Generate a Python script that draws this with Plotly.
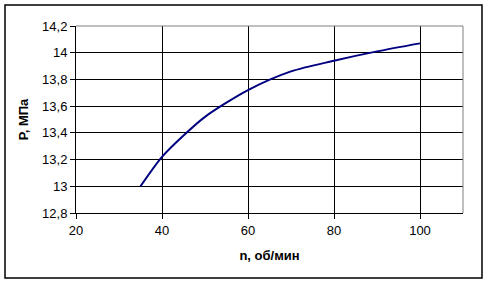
import plotly.graph_objects as go

n_rpm = [35, 40, 45, 50, 60, 70, 80, 90, 100]
p_mpa = [13.0, 13.22, 13.38, 13.52, 13.72, 13.86, 13.94, 14.01, 14.07]

x_ticks = [20, 40, 60, 80, 100]
x_labels = ["20", "40", "60", "80", "100"]
y_ticks = [12.8, 13.0, 13.2, 13.4, 13.6, 13.8, 14.0, 14.2]
y_labels = ["12,8", "13", "13,2", "13,4", "13,6", "13,8", "14", "14,2"]

font = "Liberation Sans, Arial, sans-serif"

fig = go.Figure()
fig.add_trace(go.Scatter(
    x=n_rpm, y=p_mpa, mode="lines",
    line=dict(color="#000080", width=2, shape="spline", smoothing=0.8),
    hoverinfo="skip", showlegend=False,
))

fig.update_layout(
    width=491, height=284,
    margin=dict(l=76, r=28, t=26, b=71),
    paper_bgcolor="white", plot_bgcolor="white",
    font=dict(family=font, size=13, color="black"),
    xaxis=dict(
        range=[20, 110], tickvals=x_ticks, ticktext=x_labels,
        showgrid=True, gridcolor="black", gridwidth=1,
        showline=True, linecolor="black", linewidth=1,
        ticks="outside", ticklen=5, tickcolor="black",
        zeroline=False,
        title=dict(text="<b>n, об/мин</b>", font=dict(size=13), standoff=14),
    ),
    yaxis=dict(
        range=[12.8, 14.2], tickvals=y_ticks, ticktext=y_labels,
        showgrid=True, gridcolor="black", gridwidth=1,
        showline=True, linecolor="black", linewidth=1,
        ticks="outside", ticklen=5, tickcolor="black",
        zeroline=False,
        title=dict(text="<b>P, МПа</b>", font=dict(size=13), standoff=10),
    ),
    shapes=[
        dict(type="line", xref="x domain", yref="y domain", x0=0, x1=1, y0=1, y1=1,
             line=dict(color="#808080", width=1)),
        dict(type="line", xref="x domain", yref="y domain", x0=1, x1=1, y0=0, y1=1,
             line=dict(color="#808080", width=1)),
        dict(type="rect", xref="paper", yref="paper",
             x0=-71/387, x1=(482-76)/387, y0=(213-278)/187, y1=(213-5)/187,
             line=dict(color="black", width=1.5), layer="below"),
    ],
)

fig.write_html("out.html")
